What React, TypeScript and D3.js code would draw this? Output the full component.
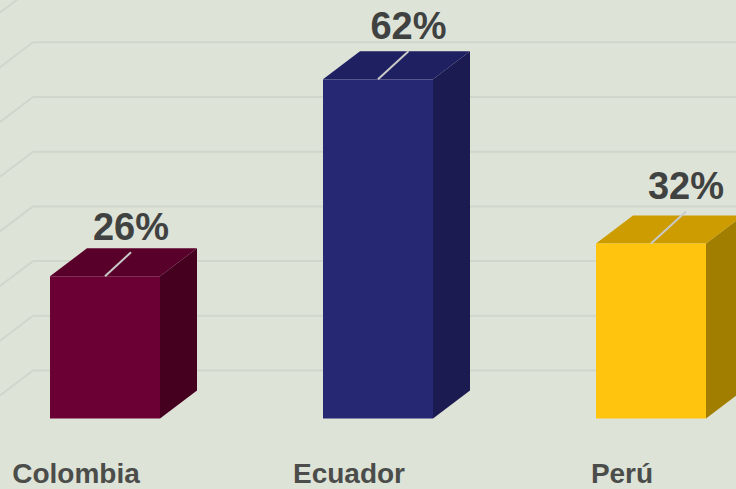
import React from "react";
import * as d3 from "d3";

const categories = ["Colombia", "Ecuador", "Perú"];
const values = [26, 62, 32];
const valueLabels = ["26%", "62%", "32%"];
const gridTicks = [0, 10, 20, 30, 40, 50, 60, 70, 80];
const frontColors = ["#6a0033", "#272874", "#ffc40e"];
const topColors = ["#58002a", "#1f2062", "#cc9c00"];
const sideColors = ["#45001f", "#1b1b52", "#a27e00"];

const W = 736;
const H = 489;
const DX = 37;
const DY = 28;
const WALL_DY = 48;
const WALL_X = 33;
const BAR_W = 110;

export default function App() {
  const y = d3.scaleLinear().domain([0, 70]).range([418.5, 418.5 - 70 * 5.47]);
  const x = d3.scalePoint<string>().domain(categories).range([105, 651]);
  const persp = d3.scaleLinear().domain([105, 651]).range([0, 1]);
  const wallY = (v: number) => y(v) - WALL_DY;
  const slope = DY / DX;

  return (
    <svg
      width={W}
      height={H}
      style={{ position: "absolute", left: 0, top: 0, display: "block" }}
      fontFamily="'Liberation Sans', Arial, sans-serif"
    >
      <rect x={0} y={0} width={W} height={H} fill="#dee3d8" />
      {gridTicks.map((t) => {
        const wy = wallY(t);
        return (
          <g key={t}>
            <line x1={WALL_X} y1={wy} x2={W} y2={wy} stroke="#d0d6cb" strokeWidth={2} />
            <line
              x1={WALL_X}
              y1={wy}
              x2={WALL_X - 80}
              y2={wy + 80 * slope}
              stroke="#d0d6cb"
              strokeWidth={2}
            />
          </g>
        );
      })}
      {categories.map((c, i) => {
        const cx = x(c) as number;
        const x0 = cx - BAR_W / 2;
        const x1 = cx + BAR_W / 2;
        const yt = y(values[i]);
        const yb = y(0);
        const top = `M${x0},${yt} L${x0 + DX},${yt - DY} L${x1 + DX},${yt - DY} L${x1},${yt} Z`;
        const side = `M${x1},${yt} L${x1 + DX},${yt - DY} L${x1 + DX},${yb - DY} L${x1},${yb} Z`;
        const p = persp(cx);
        const lx = cx + 26 + 9 * p;
        const ly = yt - (24 + 8 * p);
        return (
          <g key={c}>
            <path d={side} fill={sideColors[i]} />
            <path d={top} fill={topColors[i]} />
            <rect x={x0} y={yt} width={BAR_W} height={yb - yt} fill={frontColors[i]} />
            <line x1={cx} y1={yt} x2={lx} y2={ly} stroke="#c9c9c9" strokeWidth={2} />
            <text
              x={lx}
              y={ly - 12}
              textAnchor="middle"
              fontSize={38}
              fontWeight="bold"
              fill="#3f4240"
            >
              {valueLabels[i]}
            </text>
            <text
              x={cx - 29}
              y={483}
              textAnchor="middle"
              fontSize={28}
              fontWeight="bold"
              fill="#4b4d4a"
            >
              {c}
            </text>
          </g>
        );
      })}
    </svg>
  );
}
